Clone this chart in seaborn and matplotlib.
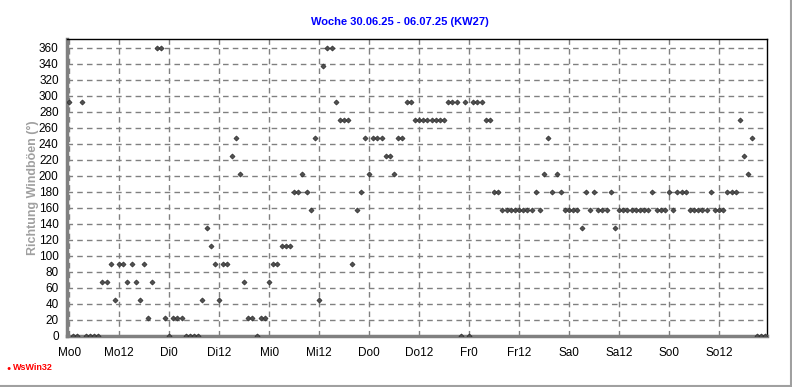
import matplotlib
matplotlib.use('Agg')

import matplotlib.pyplot as plt
import seaborn as sns
import pandas as pd
from matplotlib.lines import Line2D
from matplotlib.ticker import MultipleLocator

# -------------------------
# Data: hourly gust direction (deg), week KW27
# -------------------------

title = "Woche 30.06.25 - 06.07.25 (KW27)"
ylabel = "Richtung Windböen (°)"
tick_labels = ["Mo0", "Mo12", "Di0", "Di12", "Mi0", "Mi12", "Do0",
               "Do12", "Fr0", "Fr12", "Sa0", "Sa12", "So0", "So12"]

mo = [292.5, 0, 0, 292.5, 0, 0, 0, 0, 67.5, 67.5, 90, 45,
      90, 90, 67.5, 90, 67.5, 45, 90, 22.5, 67.5, 360, 360, 22.5]
di = [0, 22.5, 22.5, 22.5, 0, 0, 0, 0, 45, 135, 112.5, 90,
      45, 90, 90, 225, 247.5, 202.5, 67.5, 22.5, 22.5, 0, 22.5, 22.5]
mi = [67.5, 90, 90, 112.5, 112.5, 112.5, 180, 180, 202.5, 180, 157.5, 247.5,
      45, 337.5, 360, 360, 292.5, 270, 270, 270, 90, 157.5, 180, 247.5]
do = [202.5, 247.5, 247.5, 247.5, 225, 225, 202.5, 247.5, 247.5, 292.5, 292.5, 270,
      270, 270, 270, 270, 270, 270, 270, 292.5, 292.5, 292.5, 0, 292.5]
fr = [0, 292.5, 292.5, 292.5, 270, 270, 180, 180, 157.5, 157.5, 157.5, 157.5,
      157.5, 157.5, 157.5, 157.5, 180, 157.5, 202.5, 247.5, 180, 202.5, 180, 157.5]
sa = [157.5, 157.5, 157.5, 135, 180, 157.5, 180, 157.5, 157.5, 157.5, 180, 135,
      157.5, 157.5, 157.5, 157.5, 157.5, 157.5, 157.5, 157.5, 180, 157.5, 157.5, 157.5]
so = [180, 157.5, 180, 180, 180, 157.5, 157.5, 157.5, 157.5, 157.5, 180, 157.5,
      157.5, 157.5, 180, 180, 180, 270, 225, 202.5, 247.5, 0, 0, 0]

direction = mo + di + mi + do + fr + sa + so
df = pd.DataFrame({"hour": range(len(direction)), "direction": direction})

# -------------------------
# Plot
# -------------------------

sns.set_style("white")
plt.rcParams['font.family'] = ['Liberation Sans', 'DejaVu Sans']

fig = plt.figure(figsize=(7.92, 3.87), dpi=100)
ax = fig.add_axes([67 / 792, 1 - 336 / 387, 700 / 792, 297 / 387])

sns.scatterplot(data=df, x="hour", y="direction", ax=ax, marker="D",
                s=7, color="#505050", edgecolor="#202020", linewidth=0.4,
                zorder=3, legend=False)

ax.set_xlim(-0.5, 167.5)
ax.set_ylim(0, 371)
ax.set_xticks(range(0, 168, 12))
ax.set_xticklabels(tick_labels)
ax.xaxis.set_minor_locator(MultipleLocator(3))
ax.set_yticks(range(0, 361, 20))

ax.grid(True, which="major", color="#808080", linestyle=(0, (4, 3)), linewidth=1)
ax.set_axisbelow(True)

ax.tick_params(axis="both", which="major", labelsize=8.5, colors="black",
               length=4, width=1, direction="out", color="#808080")
ax.tick_params(axis="x", which="minor", length=3, width=1, color="#808080",
               direction="out")
ax.tick_params(axis="y", pad=2)
ax.tick_params(axis="x", pad=4)

for side in ["left", "bottom"]:
    ax.spines[side].set_color("#808080")
    ax.spines[side].set_linewidth(2.5)
for side in ["top", "right"]:
    ax.spines[side].set_color("black")
    ax.spines[side].set_linewidth(1)

ax.set_xlabel("")
ax.set_ylabel(ylabel, color="#a0a0a0", fontsize=9, fontweight="bold", labelpad=0)

fig.text(400 / 792, 1 - 22 / 387, title, color="#0000ff", fontsize=8,
         fontweight="bold", ha="center", va="center")

fig.text(6 / 792, 1 - 368 / 387, "\u25cf", color="#ff0000", fontsize=5,
         ha="left", va="center")
fig.text(13 / 792, 1 - 368 / 387, "WsWin32", color="#ff0000", fontsize=6.5,
         fontweight="bold", ha="left", va="center")

# window border (right and bottom)
fig.add_artist(Line2D([790.5 / 792, 790.5 / 792], [0, 1], color="#a0a0a0",
                      linewidth=1.5, transform=fig.transFigure))
fig.add_artist(Line2D([0, 1], [1.5 / 387, 1.5 / 387], color="#a0a0a0",
                      linewidth=1.5, transform=fig.transFigure))

fig.savefig("out.png", dpi=100, facecolor="white")
plt.close()
